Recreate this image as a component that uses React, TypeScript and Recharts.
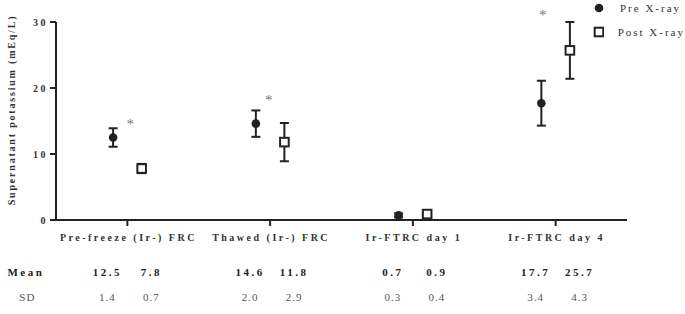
import React from "react";
import {
  ScatterChart,
  Scatter,
  XAxis,
  YAxis,
  ErrorBar,
  ReferenceDot,
  Legend,
} from "recharts";

// groups on the x axis
const categories = [
  "Pre-freeze (Ir-) FRC",
  "Thawed (Ir-) FRC",
  "Ir-FTRC day 1",
  "Ir-FTRC day 4",
];

const seriesNames = ["Pre X-ray", "Post X-ray"];

// supernatant potassium, mEq/L
const preMean = [12.5, 14.6, 0.7, 17.7];
const preSD = [1.4, 2.0, 0.3, 3.4];
const postMean = [7.8, 11.8, 0.9, 25.7];
const postSD = [0.7, 2.9, 0.4, 4.3];

// significance markers (x in group units, y in mEq/L)
const starX = [1.02, 1.99, 3.91];
const starY = [15, 18.5, 31.4];

const yTicks = [0, 10, 20, 30];

const INK = "#222";
const SHIFT = 0.1;

const preData = categories.map((c, i) => ({ x: i + 1 - SHIFT, y: preMean[i], sd: preSD[i] }));
const postData = categories.map((c, i) => ({ x: i + 1 + SHIFT, y: postMean[i], sd: postSD[i] }));

const PreDot = (p: any) => <circle cx={p.cx} cy={p.cy} r={4.3} fill={INK} />;
const PostBox = (p: any) => (
  <rect x={p.cx - 4.3} y={p.cy - 4.3} width={8.6} height={8.6} fill="#fff" stroke={INK} strokeWidth={2} />
);
const Star = (p: any) => (
  <text x={p.cx} y={p.cy + 7.5} textAnchor="middle" fontSize={15} fill="#777">
    *
  </text>
);

function CategoryTick(props: any) {
  const { x, y, payload } = props;
  const i = Math.round(payload.value) - 1;
  if (i < 0 || i >= categories.length) return null;
  const bold = { fontSize: 11, fontWeight: "bold" as const, letterSpacing: 2.5, fill: INK };
  const thin = { fontSize: 11, letterSpacing: 1, fill: "#555" };
  return (
    <g>
      <text x={x + 1} y={y + 13} textAnchor="middle" fontSize={10} fontWeight="bold" letterSpacing={2.5} fill="#333">
        {categories[i]}
      </text>
      <text x={x - 20} y={y + 48} textAnchor="middle" {...bold}>{preMean[i].toFixed(1)}</text>
      <text x={x + 24} y={y + 48} textAnchor="middle" {...bold}>{postMean[i].toFixed(1)}</text>
      <text x={x - 20} y={y + 73} textAnchor="middle" {...thin}>{preSD[i].toFixed(1)}</text>
      <text x={x + 24} y={y + 73} textAnchor="middle" {...thin}>{postSD[i].toFixed(1)}</text>
      {i === 0 && (
        <>
          <text x={x - 120} y={y + 48} {...bold}>Mean</text>
          <text x={x - 100} y={y + 73} textAnchor="middle" {...thin}>SD</text>
        </>
      )}
    </g>
  );
}

function YLabel(props: any) {
  const vb = props.viewBox || { x: 0, y: 22, height: 198 };
  const cx = vb.x + 11;
  const cy = 110;
  return (
    <text
      x={cx}
      y={cy}
      transform={`rotate(-90, ${cx}, ${cy})`}
      textAnchor="middle"
      dominantBaseline="central"
      fontSize={10}
      fontWeight="bold"
      letterSpacing={1.8}
      fill="#333"
    >
      Supernatant potassium (mEq/L)
    </text>
  );
}

function LegendBox({ payload }: any) {
  const items = [...(payload || [])].sort(
    (a: any, b: any) => seriesNames.indexOf(a.value) - seriesNames.indexOf(b.value)
  );
  return (
    <div style={{ fontSize: 11, letterSpacing: 2, color: "#333", whiteSpace: "nowrap" }}>
      {items.map((e: any, i: number) => (
        <div key={i} style={{ display: "flex", alignItems: "center", height: 24 }}>
          <svg width={14} height={14}>
            {e.value === seriesNames[0] ? (
              <circle cx={7} cy={7} r={4.3} fill={INK} />
            ) : (
              <rect x={2.7} y={2.7} width={8.6} height={8.6} fill="#fff" stroke={INK} strokeWidth={2} />
            )}
          </svg>
          <span style={{ marginLeft: 14 }}>{e.value}</span>
        </div>
      ))}
    </div>
  );
}

export default function App() {
  return (
    <div
      style={{
        position: "absolute",
        left: 0,
        top: 0,
        fontFamily: "'Liberation Serif', 'Times New Roman', serif",
      }}
    >
      <ScatterChart width={685} height={314} margin={{ top: 22, right: 58, bottom: 0, left: 0 }}>
        <XAxis
          type="number"
          dataKey="x"
          domain={[0.5, 4.5]}
          ticks={[1, 2, 3, 4]}
          height={94}
          tickSize={6}
          axisLine={{ stroke: INK, strokeWidth: 2 }}
          tickLine={{ stroke: INK, strokeWidth: 2 }}
          tick={<CategoryTick />}
          interval={0}
        />
        <YAxis
          type="number"
          dataKey="y"
          domain={[0, 30]}
          ticks={yTicks}
          width={56}
          tickSize={6}
          axisLine={{ stroke: INK, strokeWidth: 2 }}
          tickLine={{ stroke: INK, strokeWidth: 2 }}
          tick={{ fontSize: 10, fontWeight: "bold", letterSpacing: 2.5, fill: "#333" }}
          label={(p: any) => <YLabel {...p} />}
        />
        <Legend
          layout="vertical"
          verticalAlign="middle"
          align="center"
          content={<LegendBox />}
          wrapperStyle={{ top: -4, left: 592, width: 93 }}
        />
        <Scatter name={seriesNames[0]} data={preData} shape={PreDot} isAnimationActive={false}>
          <ErrorBar dataKey="sd" direction="y" width={4.5} strokeWidth={2} stroke={INK} isAnimationActive={false} />
        </Scatter>
        <Scatter name={seriesNames[1]} data={postData} shape={PostBox} isAnimationActive={false}>
          <ErrorBar dataKey="sd" direction="y" width={4.5} strokeWidth={2} stroke={INK} isAnimationActive={false} />
        </Scatter>
        {starX.map((sx, i) => (
          <ReferenceDot key={i} x={sx} y={starY[i]} ifOverflow="visible" shape={Star} />
        ))}
      </ScatterChart>
    </div>
  );
}
